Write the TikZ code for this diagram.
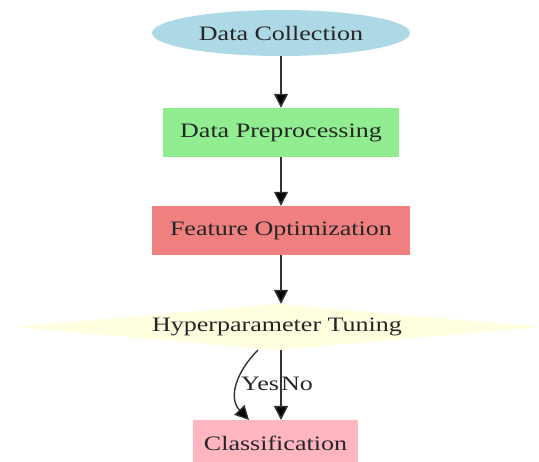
\documentclass[tikz,border=0pt]{standalone}
\usepackage{fontspec}
\setmainfont{Liberation Serif}
\newfontfamily\widefont[FakeStretch=1.27]{Liberation Serif}
\usetikzlibrary{shapes.geometric,arrows.meta}
\definecolor{clblue}{RGB}{173,216,230}
\definecolor{clgreen}{RGB}{144,238,144}
\definecolor{clcoral}{RGB}{240,128,128}
\definecolor{clyellow}{RGB}{255,255,224}
\definecolor{clpink}{RGB}{255,182,193}
\tikzset{
  base/.style={inner sep=0pt, font=\widefont\fontsize{20.5}{24}\selectfont, text=black!85},
  boxnode/.style={base, rectangle},
  arr/.style={-{Triangle[length=14pt,width=14pt,fill=black]}, line width=1.4pt, draw=black!80},
  lbl/.style={font=\widefont\fontsize{20.5}{24}\selectfont, text=black!85, inner sep=0pt}
}
\begin{document}
\begin{tikzpicture}[x=1pt,y=-1pt]
\useasboundingbox (0,0) rectangle (539,462);
\node[base, ellipse, fill=clblue, minimum width=258pt, minimum height=46pt] (dc) at (281,33) {Data Collection};
\node[boxnode, fill=clgreen, minimum width=236pt, minimum height=49pt] (dp) at (281,132.5) {Data Preprocessing};
\node[boxnode, fill=clcoral, minimum width=258pt, minimum height=49pt] (fo) at (281,230.5) {Feature Optimization};
\node[base, diamond, aspect=11.5, fill=clyellow, minimum width=528pt, minimum height=46pt] (ht) at (277,327) {Hyperparameter Tuning};
\node[boxnode, fill=clpink, minimum width=165pt, minimum height=46pt, anchor=north] (cl) at (275.5,420) {Classification};
\coordinate (cltop) at (281,420);
\draw[arr] (dc.south) -- (dp.north);
\draw[arr] (dp.south) -- (fo.north);
\draw[arr] (fo.south) -- (ht.north -| fo.south);
\coordinate (ys) at (258,350);
\coordinate (ye) at (249,420);
\draw[arr] (ys) .. controls (236,372) and (228,398) .. (ye);
\coordinate (ns) at (281,350);
\draw[arr] (ns) -- (cltop);
\node[lbl] (yes) at (260,384) {Yes};
\node[lbl] (no) at (297,384) {No};
\end{tikzpicture}
\end{document}
